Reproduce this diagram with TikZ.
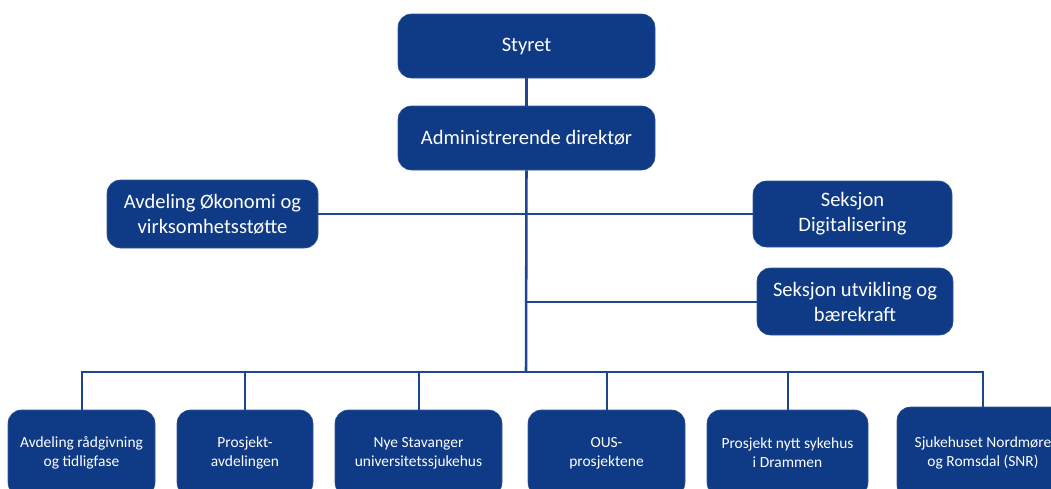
\documentclass[tikz,border=0pt]{standalone}
\usepackage{fontspec}
\setmainfont{Carlito}
\usepackage{tikz}
\usetikzlibrary{positioning}
\definecolor{boxc}{HTML}{0F3A86}
\definecolor{linec}{HTML}{1D4690}
\tikzset{
  unit/.style={draw=boxc!85!white,fill=boxc,text=white,rounded corners=10pt,align=center,inner sep=2pt,font=\fontsize{15.4}{18.8}\selectfont},
  subunit/.style={unit,font=\fontsize{11.6}{14.3}\selectfont,minimum height=64.5pt},
  trunk/.style={linec,line width=1.9pt},
  link/.style={linec,line width=1.5pt}
}
\begin{document}
\begin{tikzpicture}[x=0.75pt,y=-0.75pt]
\useasboundingbox (0,0) rectangle (1051,489);
\clip (0,0) rectangle (1051,489);
% top of the organisation
\node[unit,minimum width=192.75pt,minimum height=48pt] (styret) at (526.5,46) {Styret};
\node[unit,minimum width=192.75pt,minimum height=48pt] (adm) at (526.5,138) {Administrerende direktør};
\node[unit,minimum width=158.25pt,minimum height=51pt] (okon) at (212.5,214) {Avdeling Økonomi og\\virksomhetsstøtte};
\node[unit,minimum width=149.25pt,minimum height=49.5pt] (digi) at (852.5,214) {Seksjon\\Digitalisering};
\node[unit,minimum width=147pt,minimum height=50.25pt] (utv) at (855,301.5) {Seksjon utvikling og\\bærekraft};
% bottom row
\node[subunit,minimum width=110.25pt] (b1) at (81.5,453) {Avdeling rådgivning\\og tidligfase};
\node[subunit,minimum width=102pt] (b2) at (245,453) {Prosjekt-\\avdelingen};
\node[subunit,minimum width=125.25pt] (b3) at (418.5,453) {Nye Stavanger\\universitetssjukehus};
\node[subunit,minimum width=117.75pt] (b4) at (606.5,453) {OUS-\\prosjektene};
\node[subunit,minimum width=120.75pt] (b5) at (787.5,453) {Prosjekt nytt sykehus\\i Drammen};
\node[subunit,minimum width=129pt,minimum height=69pt] (b6) at (983,453) {Sjukehuset Nordmøre\\og Romsdal (SNR)};
\coordinate (bus) at (526,372);
\coordinate (fork) at (526,301.5);
% lines
\draw[trunk] (styret) -- (adm);
\draw[trunk] (adm.south) -- (bus);
\draw[link] (okon.east) -- (digi.west);
\draw[link] (fork) -- (utv.west);
\foreach \b in {b1,b2,b3,b4,b5,b6}
  \draw[link] (bus) -| (\b.north);
\end{tikzpicture}
\end{document}
